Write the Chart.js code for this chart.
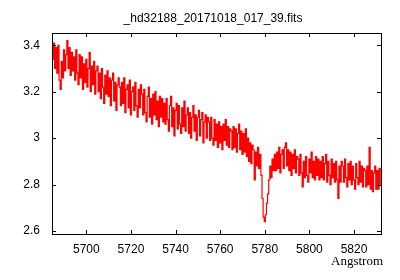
<!DOCTYPE html>
<html>
<head>
<meta charset="utf-8">
<script src="https://cdn.jsdelivr.net/npm/chart.js@4/dist/chart.umd.min.js"></script>
<style>
  body { margin: 0; background: #fff; }
</style>
</head>
<body>
<canvas id="spec" width="400" height="280"></canvas>
<script>
// spectrum sampling (Angstrom)
const waveStart = 5685.0
const waveStep = 0.5

// flux, one row per 10 A
const flux = [
  3.34, 3.41, 3.30, 3.39, 3.28, 3.40, 3.25, 3.21, 3.33, 3.26, 3.38, 3.29, 3.36, 3.42, 3.30, 3.39, 3.27, 3.37, 3.29, 3.35,
  3.25, 3.38, 3.28, 3.23, 3.36, 3.26, 3.35, 3.21, 3.32, 3.24, 3.34, 3.22, 3.30, 3.37, 3.20, 3.31, 3.23, 3.33, 3.19, 3.29,
  3.31, 3.20, 3.28, 3.17, 3.30, 3.22, 3.15, 3.27, 3.19, 3.29, 3.18, 3.26, 3.14, 3.25, 3.28, 3.16, 3.24, 3.12, 3.23, 3.26,
  3.22, 3.14, 3.24, 3.15, 3.26, 3.11, 3.21, 3.23, 3.13, 3.25, 3.10, 3.20, 3.22, 3.12, 3.24, 3.14, 3.09, 3.21, 3.13, 3.23,
  3.19, 3.10, 3.21, 3.11, 3.07, 3.18, 3.22, 3.09, 3.17, 3.06, 3.19, 3.10, 3.20, 3.08, 3.16, 3.05, 3.18, 3.09, 3.17, 3.07,
  3.15, 3.06, 3.17, 3.08, 3.03, 3.14, 3.18, 3.05, 3.13, 3.01, 3.12, 3.15, 3.04, 3.14, 3.06, 3.02, 3.13, 3.05, 3.16, 3.03,
  3.10, 3.13, 3.02, 3.11, 3.00, 3.09, 3.14, 3.03, 3.10, 2.99, 3.09, 3.12, 3.01, 3.08, 3.11, 2.98, 3.07, 3.10, 3.00, 3.09,
  3.07, 2.99, 3.09, 3.00, 2.97, 3.08, 2.99, 3.06, 2.96, 3.07, 2.98, 3.05, 2.95, 3.06, 2.99, 3.08, 2.97, 3.05, 2.96, 3.04,
  3.03, 2.95, 3.05, 2.96, 3.04, 2.94, 3.02, 3.06, 2.95, 3.03, 2.93, 3.02, 2.94, 3.04, 2.92, 3.00, 2.90, 2.98, 2.89, 2.97,
  2.95, 2.82, 2.94, 2.88, 2.96, 2.87, 2.93, 2.84, 2.74, 2.66, 2.64, 2.67, 2.72, 2.76, 2.82, 2.88, 2.83, 2.91, 2.86, 2.93,
  2.86, 2.94, 2.87, 2.96, 2.85, 2.93, 2.95, 2.87, 2.96, 2.98, 2.88, 2.95, 2.86, 2.94, 2.84, 2.93, 2.87, 2.95, 2.85, 2.92,
  2.91, 2.84, 2.93, 2.85, 2.79, 2.90, 2.83, 2.92, 2.84, 2.81, 2.91, 2.85, 2.94, 2.83, 2.90, 2.82, 2.92, 2.84, 2.91, 2.82,
  2.90, 2.83, 2.92, 2.82, 2.89, 2.93, 2.81, 2.90, 2.84, 2.80, 2.91, 2.83, 2.89, 2.81, 2.90, 2.82, 2.74, 2.88, 2.81, 2.90,
  2.88, 2.81, 2.91, 2.83, 2.79, 2.89, 2.82, 2.90, 2.80, 2.88, 2.82, 2.78, 2.89, 2.83, 2.80, 2.90, 2.81, 2.88, 2.79, 2.87,
  2.86, 2.79, 2.88, 2.80, 2.96, 2.78, 2.86, 2.77, 2.85, 2.88, 2.78, 2.86, 2.78, 2.87, 2.80
]

const xTicks = [5700, 5720, 5740, 5760, 5780, 5800, 5820]
const yTicks = [2.6, 2.8, 3.0, 3.2, 3.4]

const titleText = '_hd32188_20171018_017_39.fits'
const xLabel = 'Angstrom'

Chart.defaults.font.family = "'Liberation Sans', Arial, sans-serif"
Chart.defaults.font.size = 12
Chart.defaults.color = '#000'

const points = flux.map((f, i) => ({ x: waveStart + i * waveStep, y: f }))

// gnuplot style frame: box, inward ticks, title and axis label
const frame = {
  id: 'frame',
  afterDatasetsDraw (chart) {
    const { ctx, chartArea: a, scales: { x, y } } = chart
    ctx.save()
    ctx.strokeStyle = '#000'
    ctx.lineWidth = 1
    ctx.strokeRect(a.left + 0.5, a.top + 0.5, a.width, a.height)
    ctx.beginPath()
    xTicks.forEach(v => {
      const px = Math.round(x.getPixelForValue(v)) + 0.5
      ctx.moveTo(px, a.bottom); ctx.lineTo(px, a.bottom - 4)
      ctx.moveTo(px, a.top); ctx.lineTo(px, a.top + 4)
    })
    yTicks.forEach(v => {
      const py = Math.round(y.getPixelForValue(v)) + 0.5
      ctx.moveTo(a.left, py); ctx.lineTo(a.left + 4, py)
      ctx.moveTo(a.right, py); ctx.lineTo(a.right - 4, py)
    })
    ctx.stroke()

    ctx.fillStyle = '#000'
    ctx.textBaseline = 'middle'
    ctx.font = "12px 'Liberation Sans', Arial, sans-serif"
    ctx.textAlign = 'center'
    ctx.fillText(titleText, 213, 19)
    ctx.font = "13px 'Liberation Serif', 'Times New Roman', serif"
    ctx.textAlign = 'right'
    ctx.fillText(xLabel, 383, 262)
    ctx.restore()
  }
}

new Chart(document.getElementById('spec'), {
  type: 'line',
  data: {
    datasets: [{
      data: points,
      borderColor: '#ff0000',
      borderWidth: 1.2,
      pointRadius: 0,
      stepped: 'middle',
      fill: false
    }]
  },
  options: {
    responsive: false,
    animation: false,
    devicePixelRatio: 1,
    layout: { padding: { left: 0, right: 19, top: 33, bottom: 0 } },
    plugins: {
      legend: { display: false },
      tooltip: { enabled: false }
    },
    scales: {
      x: {
        type: 'linear',
        min: 5684.6,
        max: 5832.1,
        grid: { display: false, drawTicks: false },
        border: { display: false },
        afterFit: s => { s.height = 46 },
        afterBuildTicks: s => { s.ticks = xTicks.map(v => ({ value: v })) },
        ticks: { padding: 8, autoSkip: false, maxRotation: 0, callback: v => String(v) }
      },
      y: {
        min: 2.587,
        max: 3.453,
        grid: { display: false, drawTicks: false },
        border: { display: false },
        afterFit: s => { s.width = 52 },
        afterBuildTicks: s => { s.ticks = yTicks.map(v => ({ value: v })) },
        ticks: { padding: 12, autoSkip: false, callback: v => String(v) }
      }
    }
  },
  plugins: [frame]
})
</script>
</body>
</html>
